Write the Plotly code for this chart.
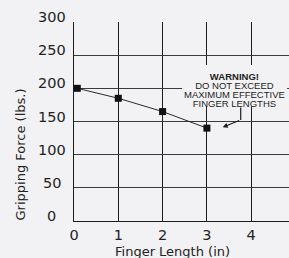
import plotly.graph_objects as go

# ---- data ----
finger_length = [0.075, 1, 2, 3]
gripping_force = [200, 185, 165, 140]

y_tick_vals = [0, 50, 100, 150, 200, 250, 300]
y_tick_text = ["0", "50", "100", "150", "200", "250", "300"]
x_tick_vals = [0, 1, 2, 3, 4]
x_tick_text = ["0", "1", "2", "3", "4"]

warning_lines = ["<b>WARNING!</b>", "DO NOT EXCEED", "MAXIMUM EFFECTIVE", "FINGER LENGTHS"]

BG = "#f2f2f4"
INK = "#222222"

W, H = 289, 258
ML, MR, MT, MB = 74, 0, 22, 37
XMAX = (W - ML - MR) / 44.3

fig = go.Figure()
fig.add_trace(go.Scatter(
    x=finger_length, y=gripping_force, mode="lines+markers",
    line=dict(color="#2a2a2a", width=1),
    marker=dict(symbol="square", size=7, color="#111111"),
    cliponaxis=False, showlegend=False, hoverinfo="skip",
))

fig.update_layout(
    width=W, height=H,
    margin=dict(l=ML, r=MR, t=MT, b=MB, pad=0),
    paper_bgcolor=BG, plot_bgcolor=BG,
    hovermode=False,
    font=dict(family="DejaVu Sans", color=INK),
    xaxis=dict(
        range=[0, XMAX], tickmode="array", tickvals=x_tick_vals, ticktext=x_tick_text,
        showgrid=True, gridcolor="#1c1c1c", gridwidth=1.2,
        showline=True, linecolor="#1c1c1c", linewidth=1.2,
        zeroline=False, ticks="", tickfont=dict(size=14.5, family="DejaVu Sans", color=INK),
        ticklabelstandoff=0, fixedrange=True, showspikes=False,
    ),
    yaxis=dict(
        range=[0, 300], tickmode="array", tickvals=y_tick_vals, showticklabels=False,
        showgrid=True, gridcolor="#3a3a3a", gridwidth=1,
        showline=True, linecolor="#1c1c1c", linewidth=1.2,
        zeroline=False, ticks="", fixedrange=True, showspikes=False,
    ),
)

# y tick labels, centered in the left margin, sitting just above the grid lines
lab_x = (51.5 - ML) / (W - ML - MR)
for v, t in zip(y_tick_vals, y_tick_text):
    fig.add_annotation(x=lab_x, xref="paper", y=v, yref="y", text=t, showarrow=False,
                       xanchor="center", yanchor="middle", yshift=5,
                       font=dict(size=14.5, family="DejaVu Sans", color=INK))

# axis titles
fig.add_annotation(x=(172.5 - ML) / (W - ML - MR), xref="paper", y=-(251 - (H - MB)) / (H - MT - MB),
                   yref="paper", text="Finger Length (in)", showarrow=False,
                   xanchor="center", yanchor="middle",
                   font=dict(size=13, family="DejaVu Sans", color=INK))
fig.add_annotation(x=(20 - ML) / (W - ML - MR), xref="paper", y=(H - MB - 154.5) / (H - MT - MB),
                   yref="paper", text="Gripping Force (lbs.)", showarrow=False, textangle=-90,
                   xanchor="center", yanchor="middle",
                   font=dict(size=13, family="DejaVu Sans", color=INK))

# warning box (covers grid)
fig.add_shape(type="rect", xref="x", yref="y", x0=2.44, x1=4.81, y0=173, y1=235,
              fillcolor=BG, line=dict(width=0), layer="above")
fig.add_shape(type="line", xref="x", yref="y", x0=3.763, x1=3.763, y0=171, y1=152.3,
              line=dict(color="#1c1c1c", width=1.2), layer="above")
warn_text = "<br>".join('<span style="font-size:9.5px">' + t + "</span>" for t in warning_lines)
fig.add_annotation(x=3.634, xref="x", y=(221.3 - 89.5) * 300 / 199.6, yref="y",
                   text=warn_text, showarrow=False, xanchor="center", yanchor="middle",
                   align="center", font=dict(size=7, family="Liberation Sans", color=INK))
fig.add_annotation(x=3.357, y=141.3, xref="x", yref="y", ax=3.763, ay=152.3,
                   axref="x", ayref="y", text="", showarrow=True,
                   arrowhead=2, arrowsize=0.9, arrowwidth=1.1, arrowcolor="#1c1c1c")

fig.write_html("out.html", config={"displayModeBar": False},
               post_script="document.body.style.margin='0';document.body.style.padding='0';"
                           "document.documentElement.style.background='" + BG + "';")
